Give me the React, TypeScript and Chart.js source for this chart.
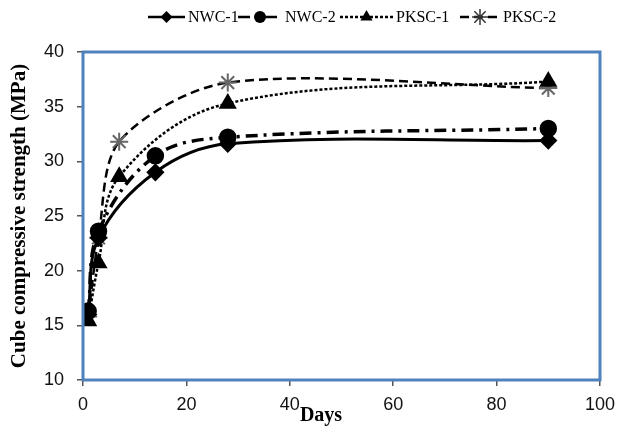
import React, { useEffect, useRef } from 'react';
import { Chart, registerables } from 'chart.js';

Chart.register(...registerables);

// ---- data ----
const nwcDays = [1, 3, 14, 28, 90];
const pkscDays = [1, 3, 7, 28, 90];
const nwc1 = [16.0, 23.0, 29.0, 31.6, 31.9];
const nwc2 = [16.3, 23.6, 30.5, 32.2, 33.0];
const pksc1 = [15.4, 20.7, 28.6, 35.3, 37.3];
const pksc2 = [15.8, 23.0, 31.8, 37.2, 36.7];
const seriesLabels = ['NWC-1', 'NWC-2', 'PKSC-1', 'PKSC-2'];
const xTitle = 'Days';
const yTitle = 'Cube compressive strength (MPa)';

const FRAME = '#4f81bd';

function drawMarker(ctx: CanvasRenderingContext2D, style: string, x: number, y: number, r: number, color: string) {
  ctx.save();
  ctx.fillStyle = color;
  ctx.strokeStyle = color;
  ctx.setLineDash([]);
  ctx.beginPath();
  if (style === 'circle') {
    ctx.arc(x, y, r, 0, Math.PI * 2);
    ctx.fill();
  } else if (style === 'rectRot') {
    ctx.moveTo(x, y - r);
    ctx.lineTo(x + r, y);
    ctx.lineTo(x, y + r);
    ctx.lineTo(x - r, y);
    ctx.closePath();
    ctx.fill();
  } else if (style === 'triangle') {
    ctx.moveTo(x, y - r);
    ctx.lineTo(x + r * 0.87, y + r * 0.5);
    ctx.lineTo(x - r * 0.87, y + r * 0.5);
    ctx.closePath();
    ctx.fill();
  } else if (style === 'star') {
    ctx.lineWidth = 1.5;
    for (let k = 0; k < 4; k++) {
      const a = (Math.PI / 4) * k;
      ctx.moveTo(x - r * Math.cos(a), y - r * Math.sin(a));
      ctx.lineTo(x + r * Math.cos(a), y + r * Math.sin(a));
    }
    ctx.stroke();
  }
  ctx.restore();
}

const legendLayout = [
  { x0: 148, x1: 185 },
  { x0: 238, x1: 282 },
  { x0: 340, x1: 393 },
  { x0: 460, x1: 500 },
];

const legendPlugin = {
  id: 'customLegend',
  afterDraw(chart: any) {
    const ctx = chart.ctx as CanvasRenderingContext2D;
    const y = 17;
    ctx.save();
    chart.data.datasets.forEach((ds: any, i: number) => {
      const L = legendLayout[i];
      ctx.save();
      ctx.strokeStyle = '#000';
      ctx.lineWidth = Math.min(ds.borderWidth, 2.5);
      ctx.setLineDash(ds.borderDash || []);
      ctx.beginPath();
      ctx.moveTo(L.x0, y);
      ctx.lineTo(L.x1, y);
      ctx.stroke();
      ctx.restore();
      drawMarker(ctx, ds.pointStyle, (L.x0 + L.x1) / 2, y, ds.pointRadius - 1, ds.pointStyle === 'star' ? '#333' : '#000');
      ctx.fillStyle = '#000';
      ctx.font = '16px "Liberation Serif"';
      ctx.textAlign = 'left';
      ctx.textBaseline = 'middle';
      ctx.fillText(ds.label, L.x1 + 3, y + 1);
    });
    // x axis title
    ctx.fillStyle = '#000';
    ctx.font = 'bold 20px "Liberation Serif"';
    ctx.textAlign = 'center';
    ctx.textBaseline = 'middle';
    ctx.fillText(xTitle, 321, 416);
    ctx.restore();
  },
};

const framePlugin = {
  id: 'frame',
  afterDatasetsDraw(chart: any) {
    const { ctx, chartArea } = chart;
    ctx.save();
    ctx.strokeStyle = FRAME;
    ctx.lineWidth = 3;
    ctx.setLineDash([]);
    ctx.strokeRect(chartArea.left, chartArea.top, chartArea.right - chartArea.left, chartArea.bottom - chartArea.top);
    ctx.restore();
  },
};

export default function App() {
  const ref = useRef<HTMLCanvasElement | null>(null);
  useEffect(() => {
    if (!ref.current) return;
    const toXY = (xs: number[], ys: number[]) => xs.map((x, i) => ({ x, y: ys[i] }));
    const common = {
      borderColor: '#000',
      pointBackgroundColor: '#000',
      pointBorderColor: '#000',
      fill: false,
      tension: 0.36,
    };
    const chart = new Chart(ref.current, {
      type: 'line',
      data: {
        datasets: [
          { ...common, label: seriesLabels[0], data: toXY(nwcDays, nwc1), borderWidth: 3, borderDash: [], pointStyle: 'rectRot', pointRadius: 7 },
          { ...common, label: seriesLabels[1], data: toXY(nwcDays, nwc2), borderWidth: 3.5, borderDash: [12, 6, 3, 6], pointStyle: 'circle', pointRadius: 7 },
          { ...common, label: seriesLabels[2], data: toXY(pkscDays, pksc1), borderWidth: 2.5, borderDash: [3, 2], pointStyle: 'triangle', pointRadius: 8 },
          { ...common, label: seriesLabels[3], data: toXY(pkscDays, pksc2), borderWidth: 2.5, borderDash: [9, 5], pointStyle: 'star', pointRadius: 9, pointBorderColor: '#666', pointBorderWidth: 2, tension: 0.3 },
        ],
      },
      options: {
        animation: false,
        responsive: false,
        maintainAspectRatio: false,
        layout: { padding: { top: 52, right: 17, left: 0, bottom: 0 } },
        plugins: { legend: { display: false }, tooltip: { enabled: false } },
        scales: {
          x: {
            type: 'linear',
            min: 0,
            max: 100,
            ticks: { stepSize: 20, font: { family: 'Liberation Sans', size: 18 }, color: '#111', padding: 8 },
            grid: { drawOnChartArea: false, drawTicks: true, tickLength: 6, color: '#555', lineWidth: 1.5 },
            border: { display: false },
            afterFit: (s: any) => { s.height = 52; s.paddingRight = 0; s.paddingLeft = 0; },
          },
          y: {
            type: 'linear',
            min: 10,
            max: 40,
            ticks: { stepSize: 5, font: { family: 'Liberation Sans', size: 18 }, color: '#111', padding: 13 },
            grid: { drawOnChartArea: false, drawTicks: true, tickLength: 6, color: '#555', lineWidth: 1.5 },
            border: { display: false },
            title: { display: true, text: yTitle, font: { family: 'Liberation Serif', size: 21, weight: 'bold' }, color: '#000', padding: { top: 7, bottom: 0 } },
            afterFit: (s: any) => { s.width = 83; s.paddingTop = 0; s.paddingBottom = 0; },
          },
        },
      },
      plugins: [framePlugin, legendPlugin],
    } as any);
    return () => chart.destroy();
  }, []);
  return (
    <div style={{ position: 'fixed', left: 0, top: 0, width: 617, height: 432, background: '#fff' }}>
      <canvas ref={ref} width={617} height={432} style={{ display: 'block' }} />
    </div>
  );
}
